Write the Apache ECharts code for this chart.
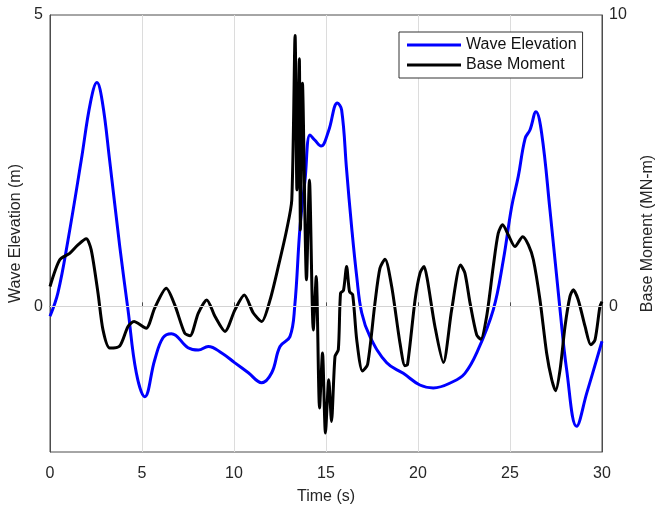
<!DOCTYPE html>
<html>
<head>
<meta charset="utf-8">
<script src="https://cdn.jsdelivr.net/npm/echarts@6/dist/echarts.min.js"></script>
<style>
html,body{margin:0;padding:0;background:#fff;}
#chart{width:658px;height:506px;}
</style>
</head>
<body>
<div id="chart"></div>
<script>
// ---- data ----
const waveTime = [0, 0.43, 0.98, 1.7, 2.2, 2.55, 2.85, 3.24, 3.79, 4.24, 4.69, 5.15, 5.69, 6.14, 6.6, 7.5, 8.06, 8.6, 9.33, 10.05, 10.78, 11.5, 12.05, 12.5, 13.04, 13.3, 13.59, 13.86, 14.13, 14.4, 14.73, 15.13, 15.62, 15.85, 16.12, 16.39, 16.67, 16.94, 17.39, 18.3, 19.2, 20.1, 20.83, 21.92, 22.55, 23.19, 24.09, 24.64, 25.09, 25.45, 25.82, 26.09, 26.41, 26.72, 27.17, 27.72, 28.08, 28.62, 29.17, 30];
const waveValues = [-0.17, 0.23, 1.14, 2.51, 3.5, 3.84, 3.5, 2.51, 1.03, -0.06, -1.14, -1.55, -0.92, -0.54, -0.47, -0.71, -0.75, -0.69, -0.8, -0.97, -1.14, -1.31, -1.14, -0.69, -0.52, 0, 1.37, 2.17, 2.94, 2.85, 2.75, 3.0, 3.49, 3.37, 2.34, 1.37, 0.51, -0.11, -0.52, -0.97, -1.15, -1.35, -1.4, -1.29, -1.15, -0.8, -0.06, 0.8, 1.71, 2.23, 2.88, 3.03, 3.34, 2.97, 1.66, -0.06, -1.09, -2.06, -1.49, -0.6];

const momentTime = [0, 0.53, 1.07, 1.52, 1.97, 2.24, 2.61, 2.88, 3.24, 3.79, 4.24, 4.57, 4.78, 5.23, 5.69, 6.32, 6.78, 7.32, 7.61, 8.06, 8.52, 8.97, 9.51, 10.05, 10.56, 11.05, 11.51, 11.96, 12.41, 12.86, 13.14, 13.32, 13.42, 13.55, 13.61, 13.72, 13.94, 14.10, 14.31, 14.47, 14.65, 14.81, 14.97, 15.15, 15.30, 15.49, 15.67, 15.79, 15.95, 16.12, 16.28, 16.45, 16.67, 16.98, 17.26, 17.66, 17.93, 18.21, 18.57, 19.02, 19.29, 19.43, 19.84, 20.11, 20.33, 20.51, 20.92, 21.38, 21.83, 22.31, 22.55, 22.83, 23.19, 23.41, 23.73, 24.09, 24.36, 24.6, 24.91, 25.27, 25.69, 26.0, 26.27, 26.63, 26.99, 27.27, 27.48, 27.72, 27.99, 28.26, 28.44, 28.71, 29.08, 29.39, 29.62, 29.89, 30];
const momentValues = [0.68, 1.6, 1.82, 2.11, 2.32, 1.94, 0.45, -0.81, -1.43, -1.36, -0.69, -0.52, -0.58, -0.75, -0.06, 0.62, 0.05, -0.92, -1.01, -0.23, 0.22, -0.35, -0.86, -0.12, 0.39, -0.23, -0.52, 0.22, 1.37, 2.62, 3.65, 9.3, 4.0, 8.5, 2.62, 7.66, 0.91, 4.34, -0.81, 1.02, -3.49, -1.6, -4.35, -2.52, -3.95, -1.72, -1.49, 0.45, 0.55, 1.37, 0.5, 0.4, -1.15, -2.22, -2.0, 0.11, 1.3, 1.62, 0.68, -1.26, -2.04, -2.0, 0.22, 1.14, 1.37, 0.91, -0.69, -1.93, -0.12, 1.42, 1.14, 0.11, -0.98, -1.13, -0.35, 1.37, 2.51, 2.8, 2.45, 2.05, 2.39, 2.11, 1.6, 0.22, -1.6, -2.52, -2.9, -2.18, -0.69, 0.34, 0.57, 0.22, -0.69, -1.32, -1.15, 0.0, 0.16];

const xTicks = [0, 5, 10, 15, 20, 25, 30];
const leftLabels = [0, 5];
const rightLabels = [0, 10];

const FONT = 'Liberation Sans, Arial, sans-serif';
const TXT = '#262626';
const AX = '#4d4d4d';

const chart = echarts.init(document.getElementById('chart'), null, {renderer: 'canvas'});
const option = {
  animation: false,
  backgroundColor: '#fff',
  textStyle: {fontFamily: FONT},
  grid: {left: 50, right: 56, top: 15, bottom: 54, show: true, borderColor: AX, borderWidth: 1,
    backgroundColor: 'transparent', containLabel: false, outerBoundsMode: 'none'},
  legend: {
    orient: 'vertical', left: 399, top: 32,
    padding: [5, 6, 5, 8], itemGap: 4,
    itemWidth: 54, itemHeight: 3, icon: 'rect',
    borderColor: '#333', borderWidth: 1, backgroundColor: '#fff',
    textStyle: {fontSize: 16, color: '#111', fontFamily: FONT},
    data: ['Wave Elevation', 'Base Moment']
  },
  xAxis: {
    type: 'value', min: xTicks[0], max: xTicks[xTicks.length - 1], interval: 5,
    name: 'Time (s)', nameLocation: 'middle', nameGap: 37,
    nameTextStyle: {fontSize: 16, color: TXT, fontFamily: FONT},
    axisLine: {show: true, lineStyle: {color: AX, width: 1}},
    axisTick: {show: true, inside: true, length: 4, lineStyle: {color: AX}},
    axisLabel: {fontSize: 16, color: TXT, margin: 14, fontFamily: FONT},
    splitLine: {show: true, lineStyle: {color: '#dcdcdc', width: 1}}
  },
  yAxis: [{
    type: 'value', min: -2.5, max: 5, interval: 2.5, position: 'left',
    name: 'Wave Elevation (m)', nameLocation: 'middle', nameGap: 21, nameRotate: 90,
    nameTextStyle: {fontSize: 16, color: TXT, fontFamily: FONT},
    axisLine: {show: true, lineStyle: {color: AX}},
    axisTick: {show: false},
    axisLabel: {fontSize: 16, color: TXT, margin: 7, fontFamily: FONT,
      formatter: v => leftLabels.indexOf(v) >= 0 ? String(v) : ''},
    splitLine: {show: false}
  }, {
    type: 'value', min: -5, max: 10, interval: 5, position: 'right',
    name: 'Base Moment (MN-m)', nameLocation: 'middle', nameGap: 38, nameRotate: 90,
    nameTextStyle: {fontSize: 16, color: TXT, fontFamily: FONT},
    axisLine: {show: true, lineStyle: {color: AX}},
    axisTick: {show: false},
    axisLabel: {fontSize: 16, color: TXT, margin: 7, fontFamily: FONT,
      formatter: v => rightLabels.indexOf(v) >= 0 ? String(v) : ''},
    splitLine: {show: false}
  }],
  series: [{
    name: 'Wave Elevation', type: 'line', yAxisIndex: 0,
    data: waveTime.map((t, i) => [t, waveValues[i]]),
    showSymbol: false, symbol: 'none', smooth: 0.4,
    lineStyle: {color: '#0000ff', width: 3}, itemStyle: {color: '#0000ff'},
    markLine: {silent: true, symbol: 'none', label: {show: false},
      lineStyle: {color: '#d4d4d4', width: 1, type: 'solid'},
      data: [{yAxis: 0}]},
    z: 2
  }, {
    name: 'Base Moment', type: 'line', yAxisIndex: 1,
    data: momentTime.map((t, i) => [t, momentValues[i]]),
    showSymbol: false, symbol: 'none', smooth: 0.25,
    lineStyle: {color: '#000000', width: 3}, itemStyle: {color: '#000000'},
    z: 3
  }]
};
chart.setOption(option);
</script>
</body>
</html>
